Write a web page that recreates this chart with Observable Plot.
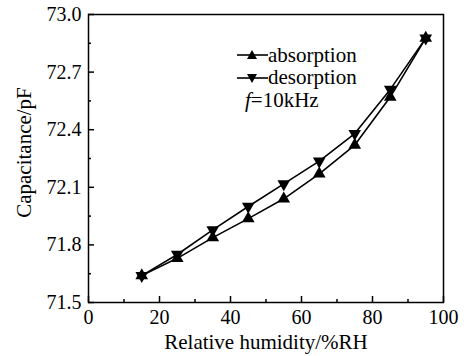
<!DOCTYPE html>
<html><head><meta charset="utf-8">
<script src="https://cdn.jsdelivr.net/npm/d3@7"></script>
<script src="https://cdn.jsdelivr.net/npm/@observablehq/plot@0.6"></script>
<style>
body{margin:0;background:#fff;}
#wrap{position:relative;width:468px;height:356px;font-family:"Liberation Serif","Times New Roman",serif;color:#000;}
#wrap svg text{font-family:"Liberation Serif","Times New Roman",serif;}
#legend{position:absolute;left:237px;top:44px;font-size:21px;}
#legend .row{display:flex;align-items:center;height:22.5px;white-space:nowrap;}
#legend svg{display:block;}
</style></head><body><div id="wrap"><div id="legend"></div></div>
<script>
const humidity = [15, 25, 35, 45, 55, 65, 75, 85, 95];
const absorption = [71.64, 71.73, 71.838, 71.937, 72.04, 72.17, 72.32, 72.57, 72.877];
const desorption = [71.64, 71.75, 71.878, 72.0, 72.118, 72.236, 72.38, 72.61, 72.877];
const xTicks = [0, 20, 40, 60, 80, 100];
const xMinor = [10, 30, 50, 70, 90];
const yTicks = [71.5, 71.8, 72.1, 72.4, 72.7, 73.0];
const yMinor = [71.65, 71.95, 72.25, 72.55, 72.85];
const seriesNames = ["absorption", "desorption"];
const xTitle = "Relative humidity/%RH";
const yTitle = "Capacitance/pF";

const data = humidity.flatMap((h, i) => [
  {h, c: absorption[i], s: seriesNames[0]},
  {h, c: desorption[i], s: seriesNames[1]}
]);

const font = '"Liberation Serif","Times New Roman",serif';
const fs = 20;
const chart = Plot.plot({
  width: 468, height: 356,
  marginLeft: 88, marginRight: 25, marginTop: 14, marginBottom: 54,
  style: {fontFamily: font, fontSize: "20px", color: "#000", background: "#fff", overflow: "visible"},
  x: {domain: [0, 100]},
  y: {domain: [71.5, 73.0]},
  marks: [
    Plot.frame({stroke: "#000", strokeWidth: 1.5}),
    Plot.axisX(xTicks, {tickSize: -6, tickPadding: 13, tickFormat: d => String(d), label: null, strokeWidth: 1.5, fontSize: fs, fontFamily: font}),
    Plot.axisX(xMinor, {tickSize: -3, tickFormat: () => "", label: null, strokeWidth: 1.5}),
    Plot.axisY(yTicks, {tickSize: -6, tickPadding: 13, tickFormat: d => d.toFixed(1), label: null, strokeWidth: 1.5, fontSize: fs, fontFamily: font}),
    Plot.axisY(yMinor, {tickSize: -3, tickFormat: () => "", label: null, strokeWidth: 1.5}),
    Plot.line(data, {x: "h", y: "c", z: "s", stroke: "#000", strokeWidth: 1.6}),
    Plot.dot(data.filter(d => d.s === seriesNames[0]), {x: "h", y: "c", symbol: "triangle", r: 4.7, fill: "#000", stroke: "none"}),
    Plot.dot(data.filter(d => d.s === seriesNames[1]), {x: "h", y: "c", symbol: "triangle", r: 4.7, rotate: 180, fill: "#000", stroke: "none"}),
    Plot.text([xTitle], {text: d => d, frameAnchor: "bottom", lineAnchor: "middle", textAnchor: "middle", dy: 40, fontSize: 21, fontFamily: font}),
    Plot.text([yTitle], {text: d => d, frameAnchor: "left", lineAnchor: "middle", textAnchor: "middle", dx: -64, dy: -6, rotate: -90, fontSize: 21, fontFamily: font})
  ]
});
document.getElementById("wrap").prepend(chart);

// legend
const legend = document.getElementById("legend");
function glyph(down) {
  const pts = down ? "10,7 20,7 15,16" : "10,15 20,15 15,6";
  return `<svg width="31" height="22"><line x1="0" y1="11" x2="31" y2="11" stroke="#000" stroke-width="1.6"/><polygon points="${pts}" fill="#000"/></svg>`;
}
seriesNames.forEach((name, i) => {
  const row = document.createElement("div");
  row.className = "row";
  row.innerHTML = glyph(i === 1) + `<span>${name}</span>`;
  legend.appendChild(row);
});
const fr = document.createElement("div");
fr.className = "row";
fr.style.paddingLeft = "8px";
fr.innerHTML = `<span><i>f</i>=10kHz</span>`;
legend.appendChild(fr);
</script>
</body></html>
